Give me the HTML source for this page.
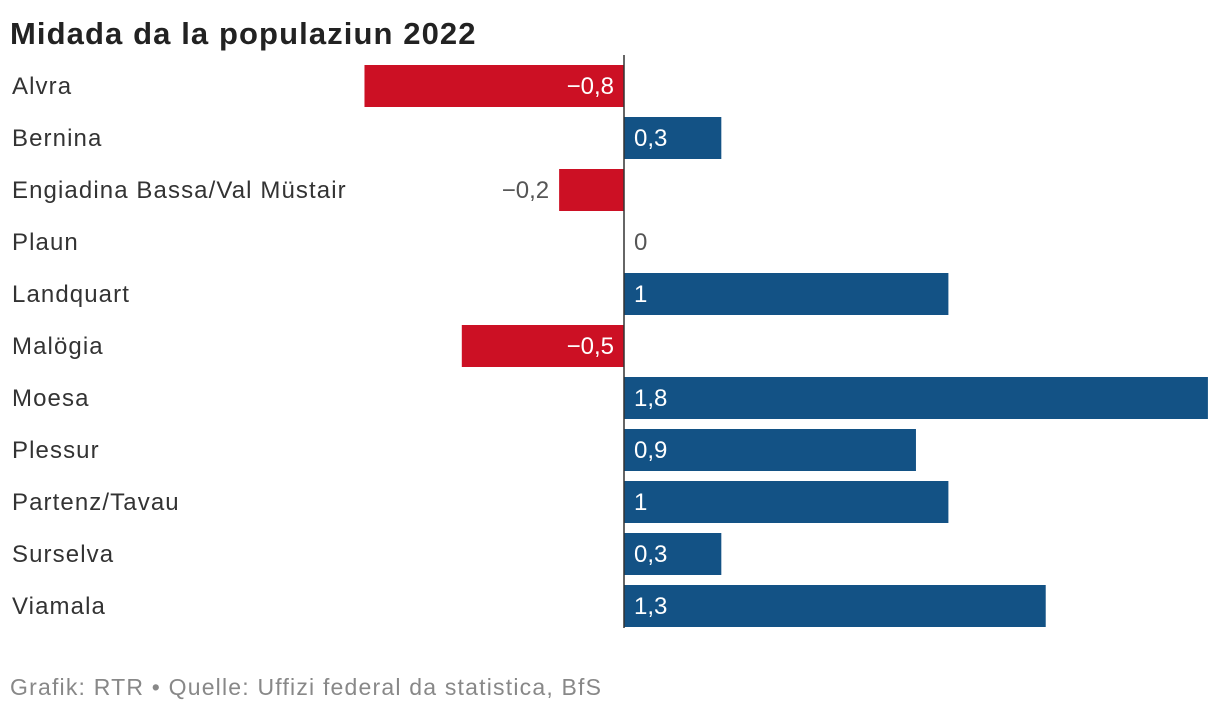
<!DOCTYPE html>
<html><head><meta charset="utf-8"><style>
body{margin:0;background:#fff;font-family:"Liberation Sans",sans-serif;}
#wrap{position:relative;width:1220px;height:718px;overflow:hidden;}
h1{position:absolute;left:10px;top:16px;margin:0;font-size:31px;font-weight:bold;color:#222;letter-spacing:1.1px;}
.foot{position:absolute;left:10px;top:674px;font-size:23px;color:#888;letter-spacing:1.2px;}
svg text{font-family:"Liberation Sans",sans-serif;}
</style></head><body>
<div id="wrap">
<h1>Midada da la populaziun 2022</h1>
<svg id="svg" width="1220" height="718" style="position:absolute;left:0;top:0"></svg>
<div class="foot">Grafik: RTR • Quelle: Uffizi federal da statistica, BfS</div>
</div>
<script>
const categories=["Alvra","Bernina","Engiadina Bassa/Val Müstair","Plaun","Landquart","Malögia","Moesa","Plessur","Partenz/Tavau","Surselva","Viamala"];
const values=[-0.8,0.3,-0.2,0,1,-0.5,1.8,0.9,1,0.3,1.3];
const labels=["−0,8","0,3","−0,2","0","1","−0,5","1,8","0,9","1","0,3","1,3"];
const svg=document.getElementById('svg');
const NS="http://www.w3.org/2000/svg";
const x0=624,unit=324.4,top0=65,pitch=52,bh=42;
const x=v=>x0+v*unit;
const y=i=>top0+i*pitch;
function mk(t,a){const e=document.createElementNS(NS,t);for(const k in a)e.setAttribute(k,a[k]);svg.appendChild(e);return e;}
categories.forEach((c,i)=>{
  const v=values[i];
  const lab=mk('text',{x:12,y:y(i)+bh/2+8,'font-size':24,fill:'#333','letter-spacing':'1.1'});
  lab.textContent=c;
  
  
  const x1=Math.min(x(0),x(v)),w=Math.abs(x(v)-x(0));
  const r=mk('rect',{x:x1,y:y(i),width:w,height:bh,fill:v<0?'#cc1024':'#135285'});
  
  
  const inside=w>80;
  let tx,anchor,fill;
  if(v<0){anchor='end';tx=inside?x(0)-10:x(v)-10;fill=inside?'#fff':'#555';}
  else{anchor='start';tx=x(0)+10;fill=(inside||w>50)?'#fff':'#555';if(w<5)fill='#555';}
  const t=mk('text',{x:tx,y:y(i)+bh/2+8,'font-size':24,fill:fill,'text-anchor':anchor});
  t.textContent=labels[i];
  
  
});
const ax=mk('line',{x1:x0,x2:x0,y1:55,y2:628,stroke:'#333','stroke-width':1.5});


</script>
</body></html>
